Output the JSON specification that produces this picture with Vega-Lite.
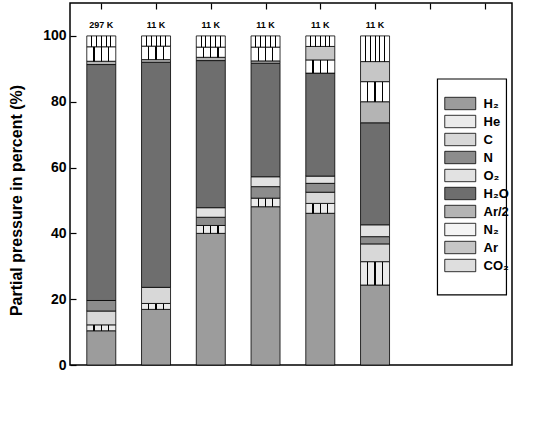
{
  "$schema": "https://vega.github.io/schema/vega-lite/v6.json",
  "width": 442,
  "height": 362,
  "autosize": {"type": "none"},
  "padding": {"left": 70, "top": 3, "right": 36, "bottom": 61},
  "config": {
    "font": "Liberation Sans",
    "view": {"stroke": "black", "strokeWidth": 1.5},
    "axis": {"domain": false, "grid": false, "tickColor": "black", "tickWidth": 1.2, "labelColor": "black", "titleColor": "black", "labelFontWeight": "bold", "titleFontWeight": "bold", "labelFontSize": 14, "titleFontSize": 16}
  },
  "datasets": {
    "gases": [
      {"t": 0, "gas": "H₂", "p": 10.4}, {"t": 0, "gas": "He", "p": 1.8}, {"t": 0, "gas": "C", "p": 4.2}, {"t": 0, "gas": "N", "p": 3.2},
      {"t": 0, "gas": "H₂O", "p": 71.7}, {"t": 0, "gas": "Ar/2", "p": 1.0}, {"t": 0, "gas": "N₂", "p": 4.4}, {"t": 0, "gas": "CO₂", "p": 3.3},
      {"t": 5, "gas": "H₂", "p": 16.9}, {"t": 5, "gas": "He", "p": 1.8}, {"t": 5, "gas": "C", "p": 4.9},
      {"t": 5, "gas": "H₂O", "p": 68.4}, {"t": 5, "gas": "Ar/2", "p": 0.8}, {"t": 5, "gas": "N₂", "p": 4.1}, {"t": 5, "gas": "CO₂", "p": 3.1},
      {"t": 10, "gas": "H₂", "p": 40.0}, {"t": 10, "gas": "He", "p": 2.4}, {"t": 10, "gas": "N", "p": 2.5}, {"t": 10, "gas": "O₂", "p": 2.9},
      {"t": 10, "gas": "H₂O", "p": 44.7}, {"t": 10, "gas": "Ar/2", "p": 1.0}, {"t": 10, "gas": "N₂", "p": 3.1}, {"t": 10, "gas": "CO₂", "p": 3.4},
      {"t": 15, "gas": "H₂", "p": 48.1}, {"t": 15, "gas": "He", "p": 2.6}, {"t": 15, "gas": "N", "p": 3.5}, {"t": 15, "gas": "O₂", "p": 3.0},
      {"t": 15, "gas": "H₂O", "p": 34.5}, {"t": 15, "gas": "Ar/2", "p": 0.7}, {"t": 15, "gas": "N₂", "p": 4.2}, {"t": 15, "gas": "CO₂", "p": 3.4},
      {"t": 20, "gas": "H₂", "p": 46.1}, {"t": 20, "gas": "He", "p": 3.0}, {"t": 20, "gas": "C", "p": 3.4}, {"t": 20, "gas": "N", "p": 2.7}, {"t": 20, "gas": "O₂", "p": 2.2},
      {"t": 20, "gas": "H₂O", "p": 31.3}, {"t": 20, "gas": "N₂", "p": 4.0}, {"t": 20, "gas": "Ar", "p": 4.1}, {"t": 20, "gas": "CO₂", "p": 3.2},
      {"t": 25, "gas": "H₂", "p": 24.3}, {"t": 25, "gas": "He", "p": 7.1}, {"t": 25, "gas": "C", "p": 5.4}, {"t": 25, "gas": "N", "p": 2.2}, {"t": 25, "gas": "O₂", "p": 3.6},
      {"t": 25, "gas": "H₂O", "p": 31.0}, {"t": 25, "gas": "Ar/2", "p": 6.4}, {"t": 25, "gas": "N₂", "p": 6.1}, {"t": 25, "gas": "Ar", "p": 6.1}, {"t": 25, "gas": "CO₂", "p": 7.8}
    ],
    "temps": [
      {"t": 0, "label": "297 K"}, {"t": 5, "label": "11 K"}, {"t": 10, "label": "11 K"},
      {"t": 15, "label": "11 K"}, {"t": 20, "label": "11 K"}, {"t": 25, "label": "11 K"}
    ]
  },
  "layer": [
    {
      "data": {"values": [{}]},
      "mark": {"type": "rect", "fill": "white", "stroke": "black", "strokeWidth": 1.2},
      "encoding": {
        "x": {"datum": 30.7, "type": "quantitative", "scale": {"domain": [-2.4, 37.05], "nice": false, "zero": false}},
        "x2": {"datum": 37.0},
        "y": {"datum": 86.9, "type": "quantitative", "scale": {"domain": [0, 110], "nice": false}},
        "y2": {"datum": 21.3}
      }
    },
    {
      "data": {"name": "gases"},
      "transform": [
        {"calculate": "indexof(['H₂','He','C','N','O₂','H₂O','Ar/2','N₂','Ar','CO₂'], datum.gas)", "as": "rank"}
      ],
      "mark": {"type": "bar", "width": 29, "stroke": "black", "strokeWidth": 0.8},
      "encoding": {
        "x": {
          "field": "t", "type": "quantitative",
          "scale": {"domain": [-2.4, 37.05], "nice": false, "zero": false},
          "axis": {"values": [0, 5, 10, 15, 20, 25, 30, 35], "tickSize": -6, "labelPadding": 10, "title": "Elapse time (hours)", "titlePadding": 12}
        },
        "y": {
          "aggregate": "sum", "field": "p", "type": "quantitative", "stack": "zero",
          "scale": {"domain": [0, 110], "nice": false},
          "axis": {"values": [0, 20, 40, 60, 80, 100], "tickSize": -6, "labelPadding": 10, "title": "Partial pressure in percent (%)", "titleX": -46, "titleY": 197}
        },
        "color": {
          "condition": [
            {"test": "datum.gas === 'He'", "value": {"gradient": "linear", "x1": 0, "y1": 0, "x2": 1, "y2": 0, "stops": [
              {"offset": 0, "color": "#ebebeb"}, {"offset": 0.23, "color": "#ebebeb"}, {"offset": 0.23, "color": "black"}, {"offset": 0.27, "color": "black"},
              {"offset": 0.27, "color": "#ebebeb"}, {"offset": 0.48, "color": "#ebebeb"}, {"offset": 0.48, "color": "black"}, {"offset": 0.52, "color": "black"},
              {"offset": 0.52, "color": "#ebebeb"}, {"offset": 0.73, "color": "#ebebeb"}, {"offset": 0.73, "color": "black"}, {"offset": 0.77, "color": "black"},
              {"offset": 0.77, "color": "#ebebeb"}, {"offset": 1, "color": "#ebebeb"}
            ]}},
            {"test": "datum.gas === 'N₂'", "value": {"gradient": "linear", "x1": 0, "y1": 0, "x2": 1, "y2": 0, "stops": [
              {"offset": 0, "color": "white"}, {"offset": 0.23, "color": "white"}, {"offset": 0.23, "color": "black"}, {"offset": 0.27, "color": "black"},
              {"offset": 0.27, "color": "white"}, {"offset": 0.48, "color": "white"}, {"offset": 0.48, "color": "black"}, {"offset": 0.52, "color": "black"},
              {"offset": 0.52, "color": "white"}, {"offset": 0.73, "color": "white"}, {"offset": 0.73, "color": "black"}, {"offset": 0.77, "color": "black"},
              {"offset": 0.77, "color": "white"}, {"offset": 1, "color": "white"}
            ]}},
            {"test": "datum.gas === 'CO₂'", "value": {"gradient": "linear", "x1": 0, "y1": 0, "x2": 1, "y2": 0, "stops": [
              {"offset": 0, "color": "white"}, {"offset": 0.15, "color": "white"}, {"offset": 0.15, "color": "black"}, {"offset": 0.185, "color": "black"},
              {"offset": 0.185, "color": "white"}, {"offset": 0.315, "color": "white"}, {"offset": 0.315, "color": "black"}, {"offset": 0.35, "color": "black"},
              {"offset": 0.35, "color": "white"}, {"offset": 0.483, "color": "white"}, {"offset": 0.483, "color": "black"}, {"offset": 0.517, "color": "black"},
              {"offset": 0.517, "color": "white"}, {"offset": 0.65, "color": "white"}, {"offset": 0.65, "color": "black"}, {"offset": 0.685, "color": "black"},
              {"offset": 0.685, "color": "white"}, {"offset": 0.815, "color": "white"}, {"offset": 0.815, "color": "black"}, {"offset": 0.85, "color": "black"},
              {"offset": 0.85, "color": "white"}, {"offset": 1, "color": "white"}
            ]}}
          ],
          "field": "gas", "type": "nominal",
          "scale": {
            "domain": ["H₂", "He", "C", "N", "O₂", "H₂O", "Ar/2", "N₂", "Ar", "CO₂"],
            "range": ["#9c9c9c", "#ebebeb", "#d8d8d8", "#8c8c8c", "#e2e2e2", "#6e6e6e", "#b4b4b4", "#f4f4f4", "#c6c6c6", "#dedede"]
          },
          "legend": {
            "orient": "none", "legendX": 381.75, "legendY": 92, "title": null, "padding": 0,
            "symbolType": "M-2,-0.8H2V0.8H-2Z", "symbolSize": 240, "symbolStrokeColor": "black", "symbolStrokeWidth": 0.8, "symbolOpacity": 1,
            "labelFont": "Liberation Sans", "labelFontWeight": "bold", "labelFontSize": 13, "labelColor": "black", "labelOffset": 14.75, "rowPadding": 1,
            "encode": {
              "symbols": {
                "update": {
                  "stroke": {"value": "black"},
                  "strokeWidth": {"value": 0.8}
                }
              }
            }
          }
        },
        "order": {"field": "rank", "type": "quantitative"}
      }
    },
    {
      "data": {"name": "temps"},
      "mark": {"type": "text", "fontWeight": "bold", "fontSize": 9, "color": "black"},
      "encoding": {
        "x": {"field": "t", "type": "quantitative", "axis": {"orient": "top", "values": [0, 5, 10, 15, 20, 25, 30, 35], "labels": false, "tickSize": -6, "title": null}},
        "y": {"datum": 103.4, "type": "quantitative"},
        "text": {"field": "label"}
      }
    }
  ]
}
